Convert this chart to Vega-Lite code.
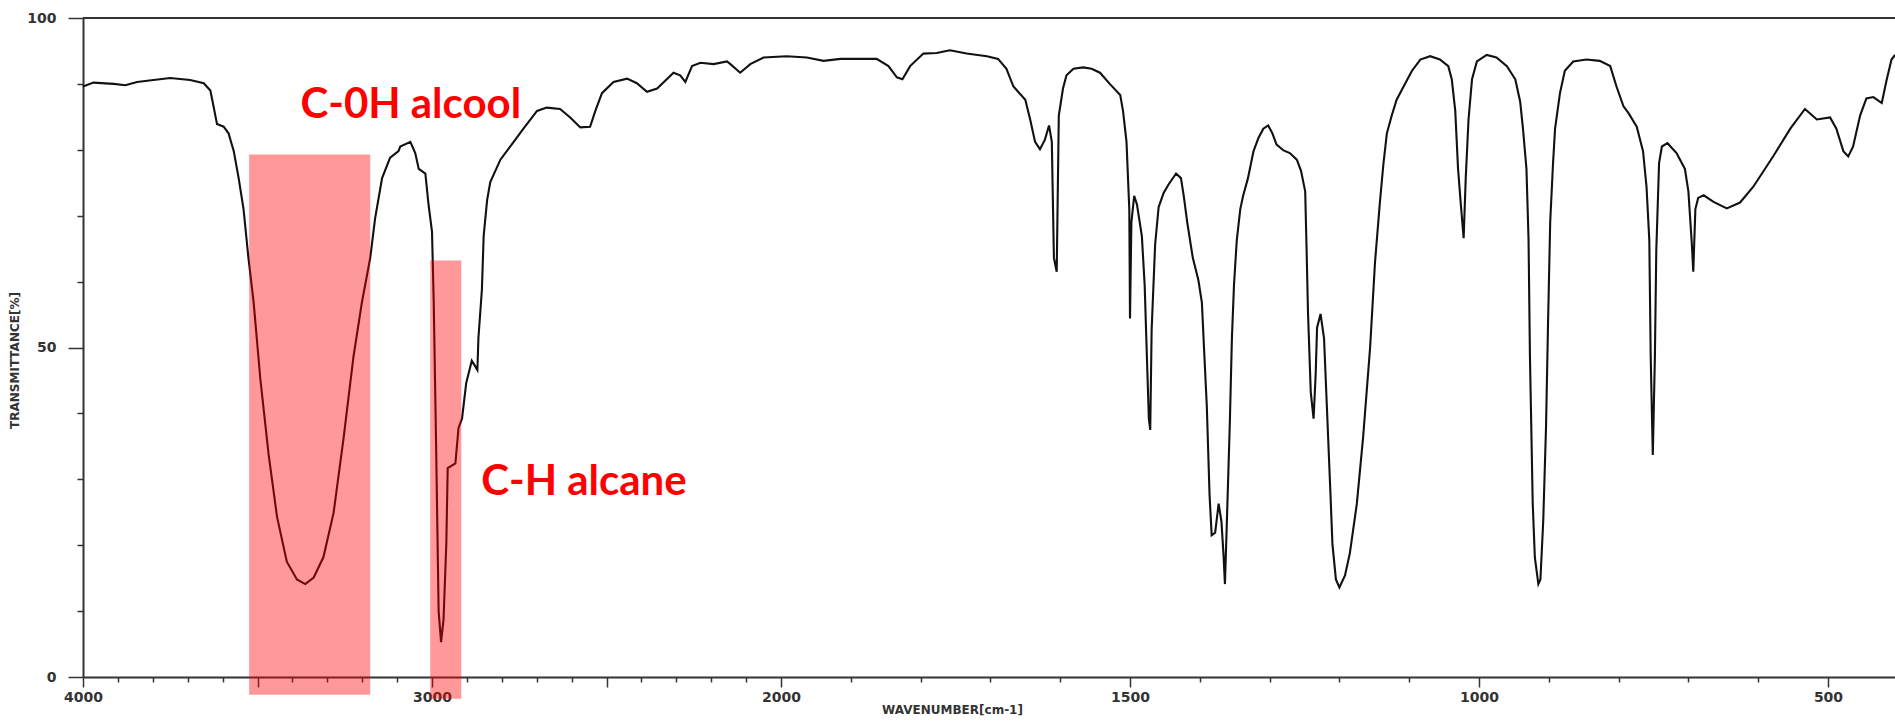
{
  "$schema": "https://vega.github.io/schema/vega-lite/v6.json",
  "width": 1812,
  "height": 659,
  "autosize": {"type": "none"},
  "padding": {"left": 83, "top": 18, "right": 0, "bottom": 44},
  "background": "white",
  "config": {"view": {"stroke": null}},
  "datasets": {
    "spectrum": [
      {"wn":4000,"t":89.6},{"wn":3970,"t":90.2},{"wn":3912,"t":90.0},{"wn":3879,"t":89.8},{"wn":3845,"t":90.3},{"wn":3798,"t":90.6},{"wn":3750,"t":90.9},{"wn":3693,"t":90.6},{"wn":3654,"t":90.1},{"wn":3635,"t":89.0},{"wn":3626,"t":86.6},{"wn":3616,"t":83.9},{"wn":3597,"t":83.5},{"wn":3583,"t":82.5},{"wn":3568,"t":79.8},{"wn":3554,"t":75.7},{"wn":3540,"t":71.0},{"wn":3526,"t":63.6},{"wn":3511,"t":56.8},{"wn":3492,"t":45.3},{"wn":3468,"t":33.7},{"wn":3444,"t":24.3},{"wn":3416,"t":17.5},{"wn":3387,"t":14.8},{"wn":3363,"t":14.1},{"wn":3339,"t":15.1},{"wn":3311,"t":18.2},{"wn":3282,"t":24.9},{"wn":3253,"t":36.4},{"wn":3225,"t":48.6},{"wn":3201,"t":56.8},{"wn":3177,"t":63.6},{"wn":3163,"t":69.6},{"wn":3143,"t":75.7},{"wn":3120,"t":78.8},{"wn":3096,"t":79.8},{"wn":3091,"t":80.5},{"wn":3062,"t":81.2},{"wn":3048,"t":79.5},{"wn":3038,"t":77.1},{"wn":3019,"t":76.4},{"wn":3010,"t":71.7},{"wn":3000,"t":67.6},{"wn":2995,"t":56.8},{"wn":2988,"t":34.4},{"wn":2981,"t":10.0},{"wn":2974,"t":5.3},{"wn":2967,"t":8.7},{"wn":2959,"t":20.2},{"wn":2955,"t":31.7},{"wn":2933,"t":32.4},{"wn":2924,"t":37.8},{"wn":2914,"t":39.2},{"wn":2902,"t":44.6},{"wn":2886,"t":48.0},{"wn":2870,"t":46.6},{"wn":2867,"t":51.4},{"wn":2857,"t":58.8},{"wn":2852,"t":66.9},{"wn":2842,"t":72.4},{"wn":2833,"t":75.1},{"wn":2804,"t":78.5},{"wn":2766,"t":81.2},{"wn":2738,"t":83.2},{"wn":2699,"t":85.9},{"wn":2671,"t":86.4},{"wn":2633,"t":86.2},{"wn":2604,"t":84.9},{"wn":2575,"t":83.4},{"wn":2547,"t":83.5},{"wn":2532,"t":85.9},{"wn":2513,"t":88.6},{"wn":2480,"t":90.3},{"wn":2441,"t":90.8},{"wn":2413,"t":90.1},{"wn":2384,"t":88.8},{"wn":2355,"t":89.3},{"wn":2308,"t":91.7},{"wn":2289,"t":91.3},{"wn":2274,"t":90.3},{"wn":2255,"t":92.7},{"wn":2231,"t":93.2},{"wn":2193,"t":93.0},{"wn":2155,"t":93.4},{"wn":2145,"t":93.0},{"wn":2117,"t":91.7},{"wn":2088,"t":93.0},{"wn":2050,"t":94.0},{"wn":1992,"t":94.2},{"wn":1963,"t":94.0},{"wn":1939,"t":93.5},{"wn":1915,"t":93.8},{"wn":1863,"t":93.8},{"wn":1846,"t":92.7},{"wn":1834,"t":91.0},{"wn":1826,"t":90.7},{"wn":1815,"t":92.7},{"wn":1796,"t":94.6},{"wn":1777,"t":94.7},{"wn":1758,"t":95.1},{"wn":1734,"t":94.6},{"wn":1705,"t":94.2},{"wn":1689,"t":93.8},{"wn":1677,"t":92.3},{"wn":1667,"t":89.6},{"wn":1650,"t":87.6},{"wn":1643,"t":84.6},{"wn":1636,"t":81.2},{"wn":1629,"t":80.1},{"wn":1622,"t":81.5},{"wn":1616,"t":83.7},{"wn":1612,"t":81.2},{"wn":1609,"t":63.6},{"wn":1605,"t":61.5},{"wn":1602,"t":85.2},{"wn":1596,"t":89.3},{"wn":1591,"t":91.3},{"wn":1581,"t":92.3},{"wn":1567,"t":92.5},{"wn":1555,"t":92.3},{"wn":1543,"t":91.7},{"wn":1529,"t":90.0},{"wn":1514,"t":88.3},{"wn":1510,"t":85.9},{"wn":1505,"t":81.2},{"wn":1501,"t":71.0},{"wn":1500,"t":54.4},{"wn":1498,"t":69.0},{"wn":1494,"t":73.0},{"wn":1490,"t":71.7},{"wn":1483,"t":66.9},{"wn":1479,"t":59.5},{"wn":1476,"t":49.3},{"wn":1473,"t":39.2},{"wn":1471,"t":37.5},{"wn":1469,"t":52.7},{"wn":1464,"t":65.6},{"wn":1459,"t":71.3},{"wn":1452,"t":73.4},{"wn":1445,"t":74.7},{"wn":1434,"t":76.4},{"wn":1427,"t":75.7},{"wn":1423,"t":73.0},{"wn":1418,"t":69.0},{"wn":1410,"t":63.6},{"wn":1402,"t":60.2},{"wn":1397,"t":56.8},{"wn":1394,"t":50.0},{"wn":1390,"t":41.2},{"wn":1386,"t":27.6},{"wn":1383,"t":21.5},{"wn":1378,"t":21.9},{"wn":1373,"t":26.3},{"wn":1369,"t":23.6},{"wn":1366,"t":18.5},{"wn":1364,"t":14.1},{"wn":1361,"t":24.3},{"wn":1357,"t":38.5},{"wn":1354,"t":51.4},{"wn":1351,"t":59.5},{"wn":1347,"t":66.3},{"wn":1342,"t":71.0},{"wn":1338,"t":73.0},{"wn":1331,"t":75.7},{"wn":1323,"t":79.8},{"wn":1316,"t":81.8},{"wn":1309,"t":83.2},{"wn":1302,"t":83.7},{"wn":1296,"t":82.5},{"wn":1290,"t":80.8},{"wn":1280,"t":79.9},{"wn":1271,"t":79.5},{"wn":1261,"t":78.5},{"wn":1255,"t":76.8},{"wn":1249,"t":73.7},{"wn":1247,"t":64.9},{"wn":1245,"t":55.4},{"wn":1241,"t":43.2},{"wn":1237,"t":39.2},{"wn":1234,"t":45.9},{"wn":1232,"t":53.0},{"wn":1227,"t":55.1},{"wn":1222,"t":51.4},{"wn":1218,"t":41.2},{"wn":1213,"t":28.3},{"wn":1210,"t":20.2},{"wn":1205,"t":14.8},{"wn":1200,"t":13.6},{"wn":1192,"t":15.4},{"wn":1185,"t":18.8},{"wn":1175,"t":26.3},{"wn":1166,"t":36.4},{"wn":1156,"t":50.0},{"wn":1149,"t":62.9},{"wn":1142,"t":72.0},{"wn":1137,"t":77.8},{"wn":1132,"t":82.5},{"wn":1125,"t":85.2},{"wn":1118,"t":87.6},{"wn":1108,"t":89.6},{"wn":1096,"t":92.0},{"wn":1084,"t":93.7},{"wn":1070,"t":94.2},{"wn":1056,"t":93.7},{"wn":1044,"t":92.7},{"wn":1039,"t":90.7},{"wn":1034,"t":85.9},{"wn":1030,"t":77.1},{"wn":1026,"t":71.7},{"wn":1022,"t":66.6},{"wn":1019,"t":75.7},{"wn":1015,"t":84.6},{"wn":1010,"t":90.7},{"wn":1003,"t":93.4},{"wn":989,"t":94.4},{"wn":975,"t":94.0},{"wn":960,"t":92.7},{"wn":948,"t":90.7},{"wn":941,"t":87.3},{"wn":937,"t":83.2},{"wn":932,"t":77.1},{"wn":929,"t":66.3},{"wn":927,"t":48.6},{"wn":923,"t":26.3},{"wn":920,"t":18.2},{"wn":915,"t":14.1},{"wn":912,"t":14.8},{"wn":908,"t":23.6},{"wn":904,"t":37.8},{"wn":901,"t":54.1},{"wn":898,"t":69.0},{"wn":894,"t":77.8},{"wn":891,"t":83.2},{"wn":884,"t":88.6},{"wn":877,"t":92.0},{"wn":865,"t":93.4},{"wn":846,"t":93.7},{"wn":827,"t":93.5},{"wn":812,"t":92.7},{"wn":803,"t":89.6},{"wn":793,"t":86.6},{"wn":786,"t":85.6},{"wn":774,"t":83.5},{"wn":765,"t":79.8},{"wn":760,"t":74.4},{"wn":756,"t":66.3},{"wn":754,"t":48.6},{"wn":751,"t":33.7},{"wn":748,"t":48.6},{"wn":746,"t":64.7},{"wn":742,"t":78.0},{"wn":738,"t":80.5},{"wn":730,"t":81.0},{"wn":717,"t":79.5},{"wn":705,"t":77.1},{"wn":700,"t":73.7},{"wn":695,"t":65.6},{"wn":693,"t":61.5},{"wn":690,"t":71.0},{"wn":686,"t":72.7},{"wn":678,"t":73.1},{"wn":664,"t":72.1},{"wn":645,"t":71.1},{"wn":626,"t":72.0},{"wn":607,"t":74.4},{"wn":578,"t":79.1},{"wn":554,"t":83.2},{"wn":533,"t":86.2},{"wn":516,"t":84.6},{"wn":497,"t":84.9},{"wn":488,"t":83.2},{"wn":478,"t":79.8},{"wn":471,"t":79.0},{"wn":464,"t":80.5},{"wn":454,"t":85.2},{"wn":445,"t":87.8},{"wn":435,"t":88.0},{"wn":423,"t":87.1},{"wn":416,"t":90.6},{"wn":409,"t":93.7},{"wn":404,"t":94.4}
    ],
    "frame": [{"wn": 4000, "wn2": 404, "t": 100}],
    "bands": [
      {"wn": 3524, "wn2": 3177, "t": 79.3, "t2": -2.7},
      {"wn": 3005, "wn2": 2916, "t": 63.2, "t2": -3.3}
    ],
    "labels": [
      {"wn": 3377, "t": 84.9, "label": "C-0H alcool"},
      {"wn": 2859, "t": 27.6, "label": "C-H alcane"}
    ]
  },
  "encoding": {
    "x": {
      "field": "wn",
      "type": "quantitative",
      "scale": {"domain": [4000, 2000, 404], "range": [0, 698, 1812], "nice": false, "zero": false},
      "axis": {
        "values": [4000,3900,3800,3700,3600,3500,3400,3300,3200,3100,3000,2900,2800,2700,2600,2500,2400,2300,2200,2100,2000,1900,1800,1700,1600,1500,1400,1300,1200,1100,1000,900,800,700,600,500],
        "format": "d",
        "labelExpr": "indexof([4000,3000,2000,1500,1000,500], datum.value) >= 0 ? datum.label : ''",
        "labelFont": "DejaVu Sans",
        "labelFontSize": 14,
        "labelFontWeight": "bold",
        "labelColor": "#333333",
        "labelPadding": 3,
        "labelOverlap": false,
        "labelFlush": false,
        "domainColor": "#333333",
        "domainWidth": 2,
        "tickColor": "#333333",
        "tickWidth": 1.5,
        "tickSize": {"condition": {"test": "datum.value % 500 === 0", "value": 10}, "value": 5},
        "grid": false,
        "title": "WAVENUMBER[cm-1]",
        "titleFont": "DejaVu Sans",
        "titleFontSize": 12,
        "titleFontWeight": "bold",
        "titleColor": "#333333",
        "titleX": 869,
        "titleY": 27,
        "titleAlign": "center",
        "titleBaseline": "top"
      }
    },
    "y": {
      "field": "t",
      "type": "quantitative",
      "scale": {"domain": [0, 100], "nice": false, "zero": false},
      "axis": {
        "values": [0,10,20,30,40,50,60,70,80,90,100],
        "labelExpr": "datum.value % 50 === 0 ? datum.label : ''",
        "labelFont": "DejaVu Sans",
        "labelFontSize": 14,
        "labelFontWeight": "bold",
        "labelColor": "#333333",
        "labelPadding": 12,
        "labelOverlap": false,
        "labelFlush": false,
        "domainColor": "#333333",
        "domainWidth": 2,
        "tickColor": "#333333",
        "tickWidth": 1.5,
        "tickSize": {"condition": {"test": "datum.value % 50 === 0", "value": 15}, "value": 6},
        "grid": false,
        "title": "TRANSMITTANCE[%]",
        "titleFont": "DejaVu Sans",
        "titleFontSize": 12,
        "titleFontWeight": "bold",
        "titleColor": "#333333",
        "titleAngle": -90,
        "titleX": -69,
        "titleY": 342,
        "titleAlign": "center",
        "titleBaseline": "middle"
      }
    }
  },
  "layer": [
    {
      "data": {"name": "spectrum"},
      "mark": {"type": "line", "color": "#111111", "strokeWidth": 2.1}
    },
    {
      "data": {"name": "frame"},
      "mark": {"type": "rule", "color": "#333333", "strokeWidth": 2},
      "encoding": {"x2": {"field": "wn2"}}
    },
    {
      "data": {"name": "bands"},
      "mark": {"type": "rect", "fill": "#ff0000", "fillOpacity": 0.4, "stroke": null},
      "encoding": {"x2": {"field": "wn2"}, "y2": {"field": "t2"}}
    },
    {
      "data": {"name": "labels"},
      "mark": {"type": "text", "color": "#ff0000", "font": "Lato", "fontWeight": "bold", "fontSize": 42, "align": "left", "baseline": "alphabetic"},
      "encoding": {"text": {"field": "label"}}
    }
  ]
}
